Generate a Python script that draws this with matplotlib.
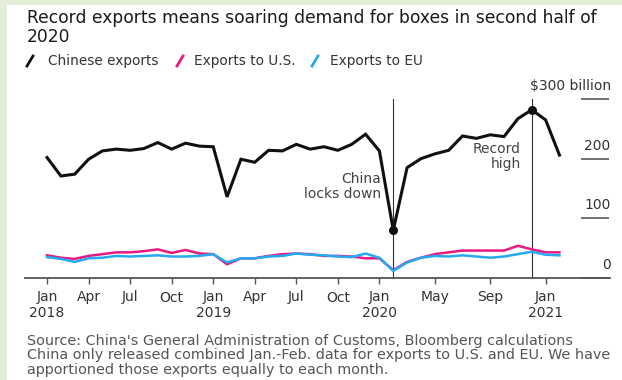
import matplotlib.pyplot as plt
from matplotlib.lines import Line2D
from matplotlib.patches import Rectangle
import numpy as np

# monthly exports, $ billion, Jan 2018 .. Feb 2021
china = [202, 171, 174, 199, 213, 216, 214, 217, 227, 216, 226, 221,
         220, 136, 199, 194, 214, 213, 224, 216, 220, 214, 224, 241,
         213, 80, 185, 200, 208, 214, 238, 234, 240, 237, 267, 282,
         265, 206]
to_us = [38, 34, 32, 37, 40, 43, 43, 45, 48, 42, 47, 41,
         40, 23, 33, 33, 37, 40, 41, 40, 37, 37, 36, 33,
         33, 13, 27, 34, 40, 43, 46, 46, 46, 46, 54, 48,
         43, 43]
to_eu = [35, 32, 27, 33, 34, 37, 36, 37, 38, 36, 36, 37,
         40, 26, 33, 33, 36, 37, 41, 39, 38, 36, 35, 41,
         34, 12, 26, 34, 37, 36, 38, 36, 34, 36, 40, 44,
         39, 38]
months = np.arange(len(china))

tick_pos = [0, 3, 6, 9, 12, 15, 18, 21, 24, 28, 32, 36]
tick_lab = ['Jan\n2018', 'Apr', 'Jul', 'Oct', 'Jan\n2019', 'Apr', 'Jul', 'Oct',
            'Jan\n2020', 'May', 'Sep', 'Jan\n2021']
y_vals = [0, 100, 200, 300]
y_labs = ['0', '100', '200', '\\$300 billion']

lockdown = 25   # Feb 2020
record = 35     # Dec 2020

BLACK = '#111111'
PINK = '#e8197f'
BLUE = '#25a9f0'

W, H = 622, 380


def fx(px):
    return px / W


def fy(py):
    return 1 - py / H


fig = plt.figure(figsize=(6.22, 3.80), dpi=100, facecolor='#e3edd7')
fig.patches.append(Rectangle((fx(7), 0), 1 - fx(7), fy(5), transform=fig.transFigure,
                             facecolor='white', edgecolor='none', zorder=-5))

ax = fig.add_axes([fx(25), fy(278), fx(610) - fx(25), fy(99) - fy(278)])
ax.set_facecolor('none')
ax.set_xlim(-1.59, 40.65)
ax.set_ylim(0, 300)

for s in ['left', 'right', 'top']:
    ax.spines[s].set_visible(False)
ax.spines['bottom'].set_color('#555555')
ax.spines['bottom'].set_linewidth(1.3)
ax.set_yticks([])
ax.set_xticks(tick_pos)
ax.set_xticklabels(tick_lab, linespacing=1.15)
ax.tick_params(axis='x', direction='out', length=4, width=1, color='#555555',
               labelsize=10, labelcolor='#333333', pad=5)

# short gridline stubs with labels sitting above them
for v, lab in zip(y_vals, y_labs):
    ax.plot([38.56, 40.58], [v, v], color='#666666', lw=1.3, clip_on=False,
            solid_capstyle='butt')
    ax.text(40.7, v + 22, lab, ha='right', va='center', fontsize=10,
            color='#333333')

# event markers
for m in [lockdown, record]:
    ax.plot([m, m], [0, 300], color='#333333', lw=0.8, zorder=1)

ax.plot(months, to_us, color=PINK, lw=1.8, zorder=2)
ax.plot(months, to_eu, color=BLUE, lw=1.8, zorder=3)
ax.plot(months, china, color=BLACK, lw=2.2, zorder=4, solid_joinstyle='miter')
ax.plot([lockdown, record], [china[lockdown], china[record]], 'o',
        color=BLACK, ms=5.5, zorder=5)

ax.text(24.1, 154, 'China\nlocks down', ha='right', va='center', fontsize=10,
        color='#444444', linespacing=1.1, multialignment='right')
ax.text(34.2, 203, 'Record\nhigh', ha='right', va='center', fontsize=10,
        color='#444444', linespacing=1.1, multialignment='right')

# title
fig.text(fx(27), fy(18), 'Record exports means soaring demand for boxes in second half of',
         ha='left', va='center', fontsize=12.3, color='#1a1a1a')
fig.text(fx(27), fy(37), '2020', ha='left', va='center', fontsize=12.3, color='#1a1a1a')

# legend
legend_items = [(BLACK, 'Chinese exports', 30, 48),
                (PINK, 'Exports to U.S.', 180, 194),
                (BLUE, 'Exports to EU', 315, 330)]
for col, lab, sx, tx in legend_items:
    fig.lines.append(Line2D([fx(sx - 3), fx(sx + 3)], [fy(66), fy(56)],
                            transform=fig.transFigure, color=col, lw=2))
    fig.text(fx(tx), fy(61), lab, ha='left', va='center', fontsize=9.8, color='#333333')

# footnotes
notes = ["Source: China's General Administration of Customs, Bloomberg calculations",
         'China only released combined Jan.-Feb. data for exports to U.S. and EU. We have',
         'apportioned those exports equally to each month.']
for i, line in enumerate(notes):
    fig.text(fx(27), fy(341 + 14.5 * i), line, ha='left', va='center', fontsize=10.4,
             color='#555555')

fig.savefig('out.png', dpi=100, facecolor=fig.get_facecolor())
